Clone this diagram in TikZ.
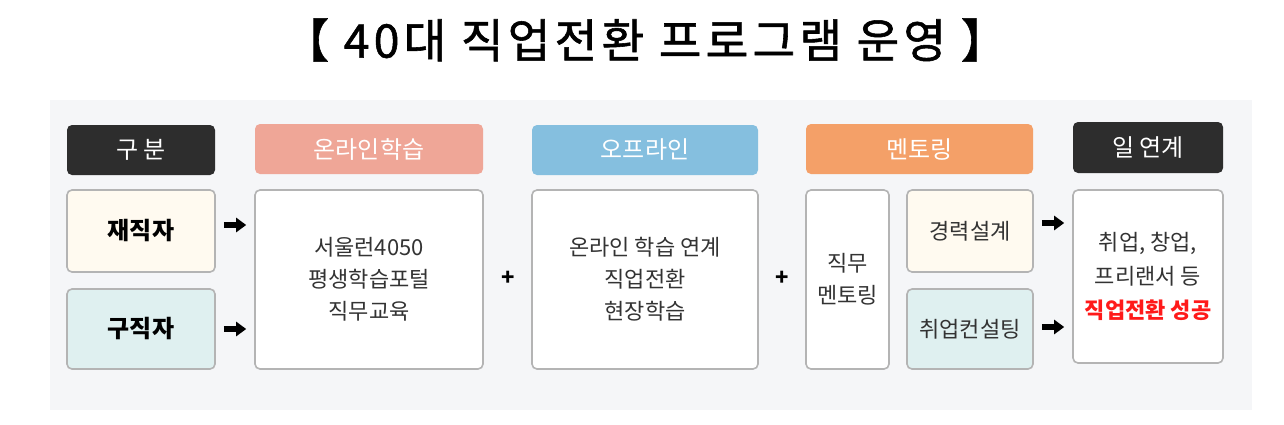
\documentclass[tikz,border=0pt]{standalone}
\usepackage{fontspec}
\setmainfont{Noto Sans CJK KR}
\newfontfamily\titlefont[LetterSpace=9,FakeBold=1.2]{Noto Sans CJK KR}
\usetikzlibrary{positioning,arrows.meta,calc}
\definecolor{panelbg}{HTML}{F5F6F8}
\definecolor{headdark}{HTML}{2D2D2D}
\definecolor{headsalmon}{HTML}{EFA697}
\definecolor{headblue}{HTML}{85BFDF}
\definecolor{headorange}{HTML}{F4A068}
\definecolor{cellcream}{HTML}{FFFAF0}
\definecolor{cellcyan}{HTML}{DFF0F0}
\definecolor{cellline}{HTML}{B4B4B4}
\definecolor{txtgray}{HTML}{333333}
\definecolor{txtred}{HTML}{FF1A1A}

\begin{document}
\begin{tikzpicture}[x=0.5pt,y=-0.5pt,>=Latex,
  head/.style={rounded corners=2.5pt,text=white,font=\fontsize{12}{14}\selectfont,
    minimum height=25pt,inner sep=0pt},
  cell/.style={rounded corners=2.5pt,draw=cellline,line width=0.8pt,fill=white,text=txtgray,
    align=center,inner sep=0pt,font=\fontsize{11}{16}\selectfont},
  who/.style={cell,font=\bfseries\fontsize{12}{14}\selectfont,text=black},
  go/.style={-{Triangle[length=5pt,width=7pt]},line width=2.6pt,shorten <=4pt,shorten >=4pt},
  plus/.style={font=\bfseries\fontsize{11}{12}\selectfont,inner sep=0pt}]
% ---- canvas ----
\useasboundingbox (0,0) rectangle (1284,424);
\fill[panelbg] (50,100) rectangle (1252,410);
% ---- title ----
\node[font=\titlefont\fontsize{23.2}{25}\selectfont] (title) at (645,40) {【 40대 직업전환 프로그램 운영 】};
% ---- headers ----
\node[head,fill=headdark,minimum width=74pt] (gubun) at (141,150) {구 분};
\node[head,fill=headsalmon,minimum width=114pt] (onhead) at (369,149) {온라인학습};
\node[head,fill=headblue,minimum width=113pt] (offhead) at (645,150) {오프라인};
\node[head,fill=headorange,minimum width=113.5pt] (menhead) at (919.5,149) {멘토링};
\node[head,fill=headdark,minimum width=75pt,minimum height=25.5pt] (jobhead) at (1148,147.5) {일 연계};
% ---- target groups ----
\node[who,fill=cellcream,minimum width=74pt,minimum height=41pt] (jaejik) at (141,231) {재직자};
\node[who,fill=cellcyan,minimum width=74pt,minimum height=40pt] (gujik) at (141,329) {구직자};
% ---- program bodies ----
\node[cell,minimum width=114pt,minimum height=89.5pt] (online) at (369,279.5) {서울런4050\\평생학습포털\\직무교육};
\node[cell,minimum width=113pt,minimum height=89.5pt] (offline) at (645,279.5) {온라인 학습 연계\\직업전환\\현장학습};
\node[cell,minimum width=41.5pt,minimum height=89.5pt] (mentor) at (847.5,279.5) {직무\\멘토링};
\node[cell,fill=cellcream,minimum width=63pt,minimum height=41pt] (career) at (970,231) {경력설계};
\node[cell,fill=cellcyan,minimum width=63pt,minimum height=40pt] (consult) at (970,329) {취업컨설팅};
\node[cell,minimum width=75pt,minimum height=86.5pt,font=\fontsize{11}{17}\selectfont] (result) at (1148,276.5)
  {취업, 창업,\\프리랜서 등\\\textcolor{txtred}{\bfseries 직업전환 성공}};
% ---- plus signs ----
\node[plus] (plusa) at (508,278) {+};
\node[plus] (plusb) at (782,278) {+};
% ---- arrows ----
\draw[go] ($(jaejik.east)+(0,-6)$) -- ($(jaejik.east -| online.west)+(0,-6)$);
\draw[go] (gujik.east) -- (gujik.east -| online.west);
\draw[go] ($(career.east)+(0,-8)$) -- ($(career.east -| result.west)+(0,-8)$);
\draw[go] ($(consult.east)+(0,-2)$) -- ($(consult.east -| result.west)+(0,-2)$);
\end{tikzpicture}
\end{document}
